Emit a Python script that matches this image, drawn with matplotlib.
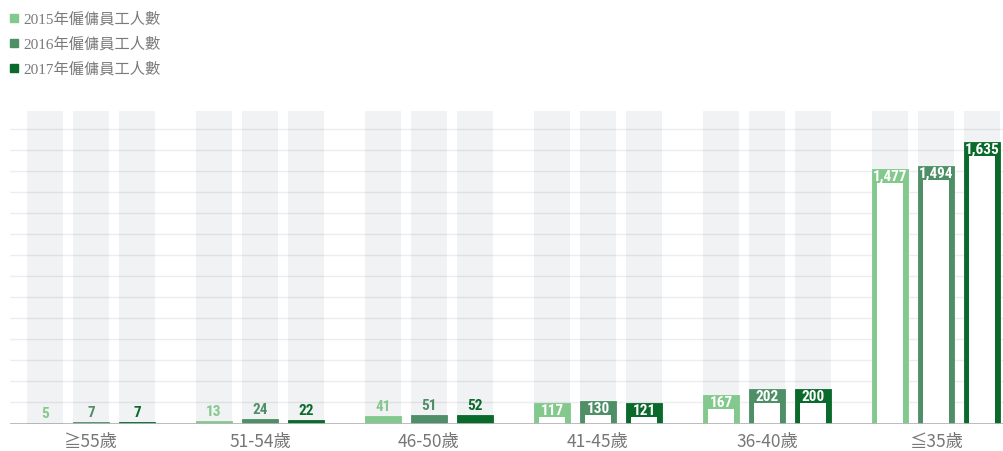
import numpy as np
import matplotlib
matplotlib.use('Agg')
from matplotlib import pyplot as plt
from matplotlib import font_manager
from matplotlib.patches import Rectangle

# data
categories = ['≧55歲', '51-54歲', '46-50歲', '41-45歲', '36-40歲', '≦35歲']
series_names = ['2015年僱傭員工人數', '2016年僱傭員工人數', '2017年僱傭員工人數']
workers_2015 = [5, 13, 41, 117, 167, 1477]
workers_2016 = [7, 24, 51, 130, 202, 1494]
workers_2017 = [7, 22, 52, 121, 200, 1635]
series = [workers_2015, workers_2016, workers_2017]
colors = ['#83c98d', '#4f8f68', '#0a6a2b']


def pick_font(cands):
    for c in cands:
        try:
            font_manager.findfont(font_manager.FontProperties(family=c),
                                  fallback_to_default=False)
            return c
        except Exception:
            pass
    return 'DejaVu Sans'


num_font = pick_font(['Liberation Sans Narrow', 'Roboto Condensed', 'Roboto'])

W, H = 1004, 452
fig = plt.figure(figsize=(W / 100, H / 100), dpi=100)

# axes placed in pixels: baseline at y=424.5, top of grey columns at y=112
base_px, top_px = 424.5, 112
left_px, right_px = 10, 1004
ax = fig.add_axes([left_px / W, (H - base_px) / H,
                   (right_px - left_px) / W, (base_px - top_px) / H])
ymax = 1812
grp_px = 169.0        # pixels between groups
c0_px = 91.0          # centre of first group
ax.set_xlim((left_px - c0_px) / grp_px, (right_px - c0_px) / grp_px)
ax.set_ylim(0, ymax)
ax.axis('off')

u_per_px = ymax / (base_px - top_px)
width = 36 / grp_px
step = 46 / grp_px
side = 5 / grp_px
band = 14 * u_per_px

x = np.arange(len(categories))

# grey background columns
for k in range(3):
    ax.bar(x + (k - 1) * step, ymax, width, color='#f1f2f4', zorder=0)

# gridlines
for g in np.arange(122, ymax, 122):
    ax.axhline(g, color='black', alpha=0.07, lw=1, zorder=1)

for k, vals in enumerate(series):
    xs = x + (k - 1) * step
    ax.bar(xs, vals, width, color=colors[k], zorder=2,
           edgecolor=colors[k], linewidth=0.6)
    for xi, v in zip(xs, vals):
        if v > band:
            ax.bar(xi, v - band, width - 2 * side, color='white', zorder=3)
            ax.text(xi, v - band / 2, f'{v:,}', ha='center', va='center',
                    color='white', fontsize=11, fontweight='bold',
                    family=num_font, zorder=4)
        else:
            ax.text(xi, v + 3 * u_per_px, f'{v:,}', ha='center', va='bottom',
                    color=colors[k], fontsize=11, fontweight='bold',
                    family=num_font, zorder=4)

# baseline
ax.axhline(0, color='#b5b5b9', lw=2, zorder=5)

# category labels
for xi, c in zip(x, categories):
    ax.text(xi, -17 * u_per_px, c, ha='center', va='center', color='#777777',
            fontsize=12.5, family=['Noto Sans CJK TC', 'DejaVu Sans'])

# legend
for k, name in enumerate(series_names):
    yc = 19 + 25 * k
    fig.add_artist(Rectangle((10 / W, 1 - (yc + 4) / H), 8 / W, 8 / H,
                             transform=fig.transFigure, color=colors[k]))
    fig.text(23 / W, 1 - yc / H, name, ha='left', va='center',
             color='#7a7a7a', fontsize=11,
             family=['Liberation Serif', 'Noto Sans CJK TC'])

fig.savefig('out.png', dpi=100)
